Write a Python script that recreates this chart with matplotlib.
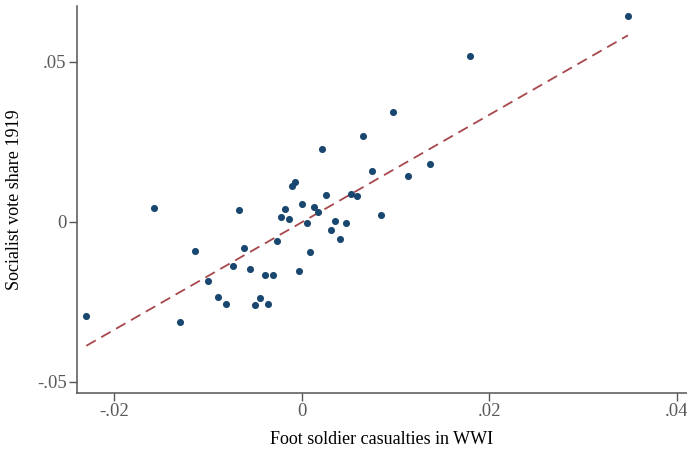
import matplotlib.pyplot as plt
import numpy as np

# residualized values
casualties = np.array([-23.0, -15.8, -13.0, -11.4, -10.0, -9.0, -8.1, -7.4, -6.7, -6.2,
                       -5.5, -5.0, -4.5, -3.95, -3.6, -3.1, -2.7, -2.2, -1.8, -1.4,
                       -1.1, -0.75, -0.3, 0.0, 0.5, 0.85, 1.3, 1.7, 2.1, 2.6,
                       3.1, 3.5, 4.05, 4.7, 5.2, 5.9, 6.5, 7.5, 8.4, 9.7,
                       11.3, 13.65, 17.9, 34.8]) / 1000
vote_share = np.array([-29.4, 4.4, -31.3, -9.1, -18.4, -23.4, -25.6, -13.8, 3.8, -8.1,
                       -14.7, -25.9, -23.8, -16.6, -25.6, -16.6, -5.9, 1.6, 4.1, 0.9,
                       11.3, 12.5, -15.3, 5.6, -0.3, -9.4, 4.7, 3.1, 22.8, 8.4,
                       -2.5, 0.3, -5.3, -0.3, 8.8, 8.1, 26.9, 15.9, 2.2, 34.4,
                       14.4, 18.1, 51.9, 64.4]) / 1000

# fitted line as drawn in the reference
fit_slope = 1.678
fit_intercept = -0.0001

xticks = [-0.02, 0, 0.02, 0.04]
xticklabels = ['-.02', '0', '.02', '.04']
yticks = [-0.05, 0, 0.05]
yticklabels = ['-.05', '0', '.05']

plt.rcParams['font.family'] = ['Liberation Serif', 'DejaVu Serif']

fig = plt.figure(figsize=(6.87, 4.5), dpi=100)
ax = fig.add_axes([0.112, 0.127, 0.888, 0.86])

ax.scatter(casualties, vote_share, s=26, color='#1a476f', zorder=3, linewidths=0)

xs = np.array([casualties.min(), casualties.max()])
ax.plot(xs, fit_intercept + fit_slope * xs, color='#a8474c', lw=1.3, dashes=(6, 3.5), zorder=2)

ax.set_xlim(-0.024, 0.0411)
ax.set_ylim(-0.0534, 0.0675)
ax.set_xticks(xticks)
ax.set_xticklabels(xticklabels)
ax.set_yticks(yticks)
ax.set_yticklabels(yticklabels)

for s in ['top', 'right']:
    ax.spines[s].set_visible(False)
for s in ['left', 'bottom']:
    ax.spines[s].set_color('#555555')
    ax.spines[s].set_linewidth(1.1)
ax.tick_params(colors='#555555', labelcolor='#595959', labelsize=13.5, length=5.5, width=1, pad=2)

ax.set_xlabel('Foot soldier casualties in WWI', fontsize=13, labelpad=8)
ax.set_ylabel('Socialist vote share 1919', fontsize=13, labelpad=10)

plt.savefig('out.png', dpi=100)
